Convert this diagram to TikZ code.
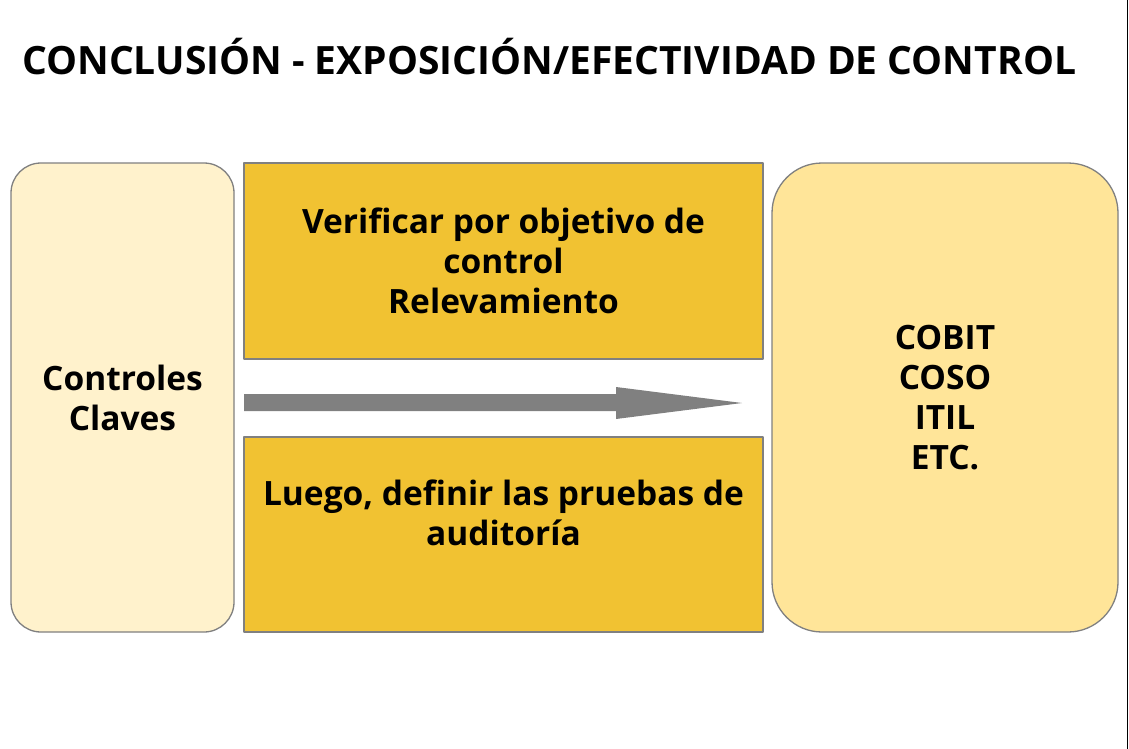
\documentclass[tikz,border=0pt]{standalone}
\usepackage{fontspec}
\setmainfont{Open Sans}
\usepackage{tikz}
\usetikzlibrary{positioning}
\definecolor{palecream}{HTML}{FFF2CC}
\definecolor{lightgold}{HTML}{FFE599}
\definecolor{mustard}{HTML}{F1C232}
\definecolor{edgegray}{HTML}{808080}

\begin{document}
\begin{tikzpicture}[x=1pt, y=-1pt, line join=round,
	box/.style={draw=edgegray, line width=1.3pt, align=center, inner sep=0pt,
		font=\bfseries\fontsize{33.5}{40}\selectfont},
	roundbox/.style={box, rounded corners=30pt},
	flatbox/.style={box, fill=mustard, minimum width=519pt}]
	% page frame
	\useasboundingbox (0,0) rectangle (1129,749);
	\fill[white] (0,0) rectangle (1129,749);
	\draw[black, line width=1.5pt] (1127.5,0) -- (1127.5,749);

	% title
	\node[anchor=base west, inner sep=0pt, font=\bfseries\fontsize{39}{45}\selectfont] (title) at (22,75)
		{CONCLUSIÓN - EXPOSICIÓN/EFECTIVIDAD DE CONTROL};

	% side boxes
	\node[roundbox, fill=palecream, minimum width=223pt, minimum height=469pt] (claves) at (122.5,397.5)
		{Controles\\Claves};
	\node[roundbox, fill=lightgold, rounded corners=50pt, minimum width=346pt, minimum height=469pt] (marcos) at (945,397.5)
		{COBIT\\COSO\\ITIL\\ETC.};

	% middle boxes
	\node[flatbox, minimum height=196pt] (verificar) at (503.5,261)
		{Verificar por objetivo de\\control\\Relevamiento};
	\node[flatbox, minimum height=195pt] (pruebas) at (503.5,534.5) {};
	\node[align=center, inner sep=0pt, font=\bfseries\fontsize{33.5}{40}\selectfont, anchor=base] (pruebastxt) at (503.5,545)
		{Luego, definir las pruebas de\\auditoría};

	% arrow between the boxes
	\fill[edgegray] (244,394) -- (616,394) -- (616,387) -- (742,403) -- (616,419) -- (616,411) -- (244,411) -- cycle;
\end{tikzpicture}
\end{document}
